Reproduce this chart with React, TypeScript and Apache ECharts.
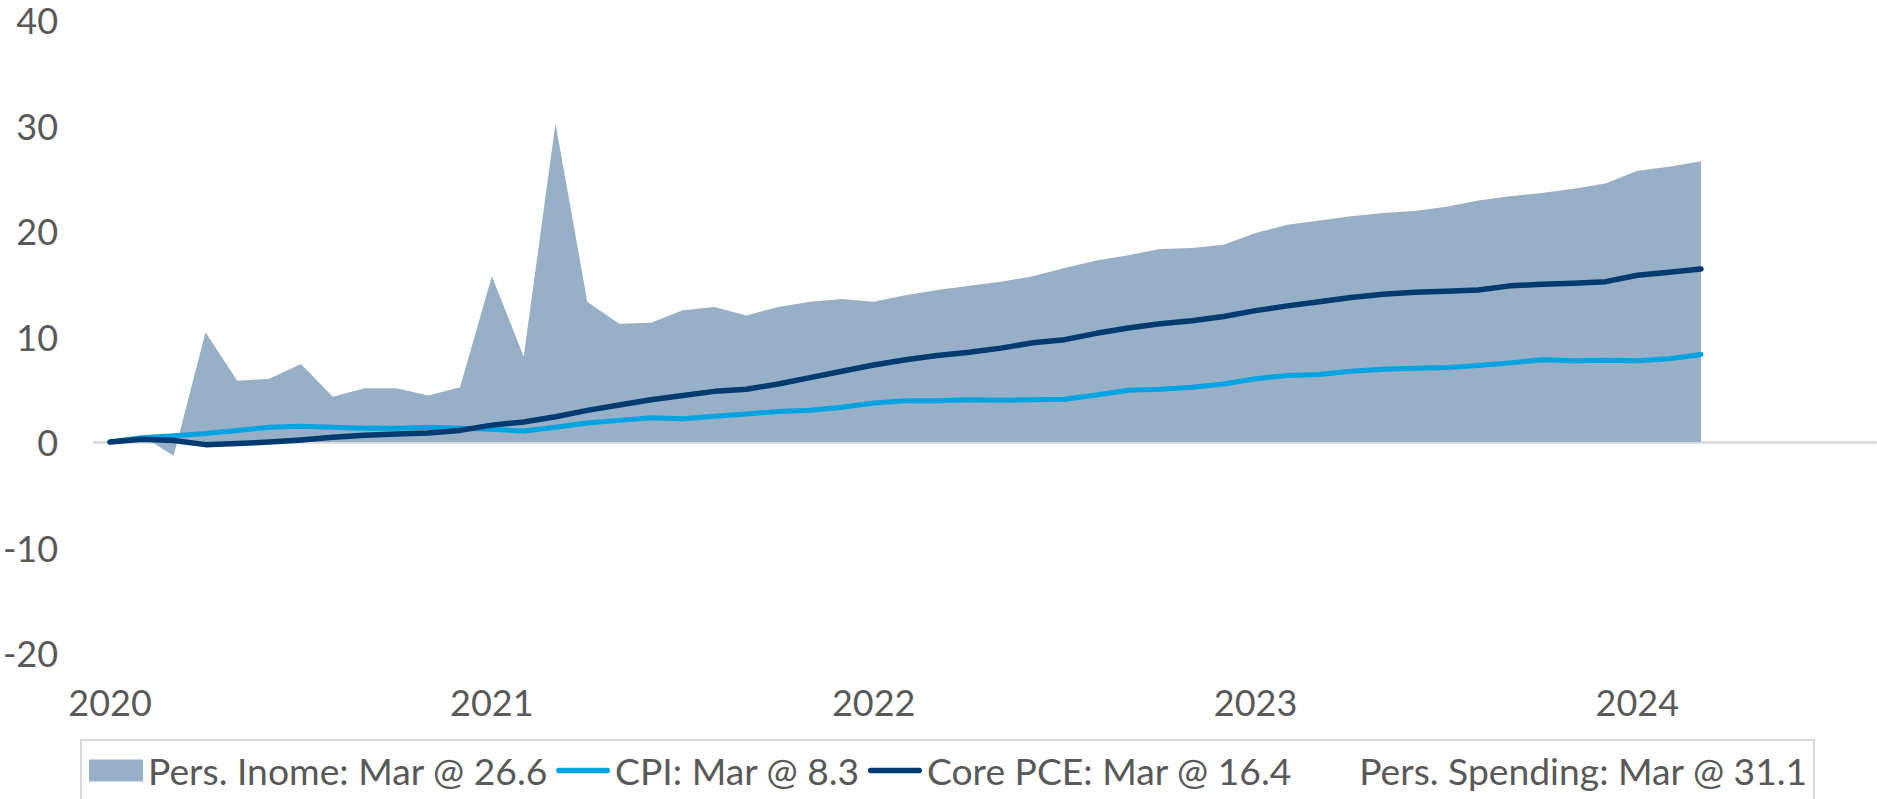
import React, { useEffect, useRef } from 'react';
import * as echarts from 'echarts';

const years = [2020, 2021, 2022, 2023, 2024];
const monthNames = ['Jan', 'Feb', 'Mar', 'Apr', 'May', 'Jun', 'Jul', 'Aug', 'Sep', 'Oct', 'Nov', 'Dec'];
// Jan 2020 .. Aug 2024 (axis runs a few months past the last data point)
const categories: string[] = [];
years.forEach((y) => monthNames.forEach((m, mi) => {
  if (y < 2024 || mi < 8) categories.push(`${m} ${y}`);
}));

const yTicks = { min: -20, max: 40, interval: 10 };

const persIncome = [
  0, 0.6, -1.3, 10.4, 5.8, 6.0, 7.4, 4.3, 5.1, 5.1, 4.4, 5.2,
  15.7, 8.1, 30.2, 13.3, 11.2, 11.3, 12.5, 12.8, 12.0, 12.8, 13.3, 13.55,
  13.3, 13.9, 14.4, 14.8, 15.2, 15.7, 16.5, 17.2, 17.7, 18.3, 18.4, 18.7,
  19.8, 20.6, 21.0, 21.4, 21.7, 21.9, 22.3, 22.9, 23.3, 23.6, 24.0, 24.5,
  25.7, 26.1, 26.6,
];

const cpi = [
  0, 0.4, 0.6, 0.8, 1.1, 1.4, 1.5, 1.4, 1.3, 1.3, 1.4, 1.3,
  1.2, 1.05, 1.4, 1.8, 2.05, 2.3, 2.2, 2.45, 2.65, 2.9, 3.0, 3.3,
  3.7, 3.9, 3.9, 4.0, 3.95, 4.0, 4.05, 4.45, 4.9, 5.0, 5.2, 5.5,
  6.0, 6.3, 6.4, 6.7, 6.9, 7.0, 7.05, 7.25, 7.5, 7.8, 7.7, 7.75,
  7.7, 7.9, 8.3,
];

const corePce = [
  0, 0.25, 0.15, -0.25, -0.15, 0.0, 0.2, 0.45, 0.65, 0.75, 0.85, 1.1,
  1.6, 1.9, 2.4, 3.0, 3.5, 4.0, 4.4, 4.8, 5.0, 5.5, 6.1, 6.7,
  7.3, 7.8, 8.2, 8.5, 8.9, 9.4, 9.7, 10.3, 10.8, 11.2, 11.5, 11.9,
  12.45, 12.9, 13.3, 13.7, 14.0, 14.2, 14.3, 14.4, 14.8, 14.95, 15.05, 15.2,
  15.8, 16.1, 16.4,
];

const persSpending: number[] = [];

const names = {
  income: 'Pers. Inome: Mar @ 26.6',
  cpi: 'CPI: Mar @ 8.3',
  core: 'Core PCE: Mar @ 16.4',
  spending: 'Pers. Spending: Mar @ 31.1',
};

const colors = {
  income: '#97B0C7',
  cpi: '#00A3E0',
  core: '#003A70',
  text: '#595959',
  axis: '#d9d9d9',
};

const lineIcon = 'path://M5,0 H95 A5,5 0 0 1 95,10 H5 A5,5 0 0 1 5,0 Z';
const FONT = 'Lato';

export default function App() {
  const ref = useRef<HTMLDivElement>(null);

  useEffect(() => {
    if (!ref.current) return;
    const chart = echarts.init(ref.current, undefined, { renderer: 'svg' });
    chart.setOption({
      animation: false,
      textStyle: { fontFamily: FONT },
      grid: { left: 94, right: 1, top: 20, bottom: 146, containLabel: false },
      legend: {
        left: 81,
        top: 740,
        orient: 'horizontal',
        itemWidth: 54,
        itemHeight: 22,
        itemGap: 8,
        padding: [12, 6, 14, 8],
        borderColor: '#d9d9d9',
        borderWidth: 2,
        selectedMode: false,
        symbolKeepAspect: true,
        itemStyle: { borderWidth: 0 },
        textStyle: { fontSize: 37.25, color: colors.text, fontFamily: FONT },
        data: [
          { name: names.income, icon: 'rect' },
          { name: names.cpi, icon: lineIcon },
          { name: names.core, icon: lineIcon },
          { name: names.spending, icon: 'rect' },
        ],
      },
      xAxis: [
        {
          type: 'category',
          data: categories,
          boundaryGap: true,
          axisLine: { show: true, onZero: true, lineStyle: { color: colors.axis, width: 2.5 } },
          axisTick: { show: false },
          axisLabel: { show: false },
          splitLine: { show: false },
        },
        {
          type: 'category',
          data: categories,
          boundaryGap: true,
          position: 'bottom',
          axisLine: { show: false, onZero: false },
          axisTick: { show: false },
          splitLine: { show: false },
          axisLabel: {
            interval: (i: number) => i % 12 === 0,
            formatter: (v: string) => v.split(' ')[1],
            fontSize: 36,
            color: colors.text,
            fontFamily: FONT,
            margin: 31,
          },
        },
      ],
      yAxis: {
        type: 'value',
        min: yTicks.min,
        max: yTicks.max,
        interval: yTicks.interval,
        axisLine: { show: false },
        axisTick: { show: false },
        splitLine: { show: false },
        axisLabel: { fontSize: 36, lineHeight: 34, color: colors.text, fontFamily: FONT, margin: 36 },
      },
      series: [
        {
          name: names.income,
          type: 'line',
          data: persIncome,
          symbol: 'none',
          color: colors.income,
          lineStyle: { width: 0, color: colors.income },
          areaStyle: { color: colors.income, opacity: 1 },
          z: 1,
        },
        {
          name: names.cpi,
          type: 'line',
          data: cpi,
          symbol: 'none',
          color: colors.cpi,
          lineStyle: { width: 5, color: colors.cpi, cap: 'round', join: 'round' },
          z: 3,
        },
        {
          name: names.core,
          type: 'line',
          data: corePce,
          symbol: 'none',
          color: colors.core,
          lineStyle: { width: 5.5, color: colors.core, cap: 'round', join: 'round' },
          z: 4,
        },
        {
          name: names.spending,
          type: 'line',
          data: persSpending,
          symbol: 'none',
          color: 'rgba(0,0,0,0)',
          lineStyle: { width: 0, color: 'rgba(0,0,0,0)' },
        },
      ],
    });
    return () => chart.dispose();
  }, []);

  return (
    <div
      ref={ref}
      style={{ position: 'fixed', left: 0, top: 0, width: 1877, height: 799, background: '#ffffff' }}
    />
  );
}
